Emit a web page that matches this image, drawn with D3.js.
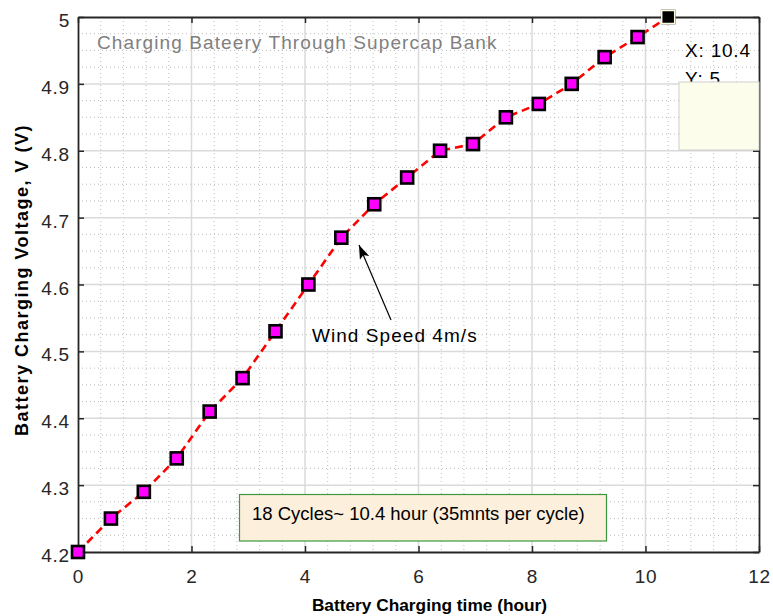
<!DOCTYPE html>
<html>
<head>
<meta charset="utf-8">
<script src="https://cdn.jsdelivr.net/npm/d3@7"></script>
<style>
  html, body { margin: 0; padding: 0; background: #ffffff; }
  svg { display: block; font-family: "Liberation Sans", Arial, Helvetica, sans-serif; }
</style>
</head>
<body>
<svg id="chart" width="773" height="616"></svg>
<script>
// Charging time (hours) for each 35-minute cycle, and measured battery voltage
const timeHours = [0, 0.58, 1.16, 1.74, 2.32, 2.9, 3.48, 4.06, 4.64, 5.22, 5.8, 6.38, 6.96, 7.54, 8.12, 8.7, 9.28, 9.86, 10.4];
const voltage   = [4.2, 4.25, 4.29, 4.34, 4.41, 4.46, 4.53, 4.60, 4.67, 4.72, 4.76, 4.80, 4.81, 4.85, 4.87, 4.90, 4.94, 4.97, 5.0];

const xTickValues = [0, 2, 4, 6, 8, 10, 12];
const yTickValues = [4.2, 4.3, 4.4, 4.5, 4.6, 4.7, 4.8, 4.9, 5.0];
const xMinorStep = 0.4;
const yMinorStep = 0.025;

const plotTitle = "Charging Bateery Through Supercap Bank";
const xLabel = "Battery Charging time (hour)";
const yLabel = "Battery Charging Voltage, V (V)";
const noteText = "18 Cycles~ 10.4 hour (35mnts per cycle)";
const arrowText = "Wind Speed 4m/s";

const svg = d3.select("#chart");
const L = 78, R = 759, T = 17, B = 552;

const x = d3.scaleLinear().domain([0, 12]).range([L, R]);
const y = d3.scaleLinear().domain([4.2, 5.0]).range([B, T]);

const axisColor = "#262626";

// white plot background
svg.append("rect").attr("x", L).attr("y", T).attr("width", R - L).attr("height", B - T).attr("fill", "#ffffff");

// minor grid (dotted)
const gMinor = svg.append("g").attr("stroke", "#bdbdbd").attr("stroke-width", 1).attr("stroke-dasharray", "1,3");
const xMinor = d3.range(0, 12 + 1e-9, xMinorStep).filter(v => Math.abs(v / 2 - Math.round(v / 2)) > 1e-6);
const yMinor = d3.range(4.2, 5.0 + 1e-9, yMinorStep).filter(v => Math.abs(v / 0.1 - Math.round(v / 0.1)) > 1e-6);
gMinor.selectAll("line.xm").data(xMinor).join("line")
  .attr("x1", d => x(d)).attr("x2", d => x(d)).attr("y1", T).attr("y2", B);
gMinor.selectAll("line.ym").data(yMinor).join("line")
  .attr("x1", L).attr("x2", R).attr("y1", d => y(d)).attr("y2", d => y(d));

// major grid (solid light gray)
const gMajor = svg.append("g").attr("stroke", "#dadada").attr("stroke-width", 1.5);
gMajor.selectAll("line.xg").data(xTickValues.slice(1, -1)).join("line")
  .attr("x1", d => x(d)).attr("x2", d => x(d)).attr("y1", T).attr("y2", B);
gMajor.selectAll("line.yg").data(yTickValues.slice(1, -1)).join("line")
  .attr("x1", L).attr("x2", R).attr("y1", d => y(d)).attr("y2", d => y(d));

// axes with inward ticks on all four sides
const tickLen = 6;
const fmtY = d => d3.format(".1f")(d).replace(/\.0$/, "");
const bottomAxis = d3.axisBottom(x).tickValues(xTickValues).tickSizeInner(-tickLen).tickSizeOuter(0).tickPadding(17.5);
const leftAxis = d3.axisLeft(y).tickValues(yTickValues).tickFormat(fmtY).tickSizeInner(-tickLen).tickSizeOuter(0).tickPadding(8);
const topAxis = d3.axisTop(x).tickValues(xTickValues).tickSizeInner(-tickLen).tickSizeOuter(0).tickFormat("");
const rightAxis = d3.axisRight(y).tickValues(yTickValues).tickSizeInner(-tickLen).tickSizeOuter(0).tickFormat("");

function styleAxis(g) {
  g.select(".domain").attr("stroke", axisColor).attr("stroke-width", 1.8);
  g.selectAll(".tick line").attr("stroke", axisColor).attr("stroke-width", 1.5);
  g.selectAll(".tick text").attr("fill", axisColor).attr("font-size", 19).attr("letter-spacing", 0.8)
    .attr("font-family", "'Liberation Sans', Arial, sans-serif");
}
svg.append("g").attr("transform", `translate(0,${B})`).call(bottomAxis).call(styleAxis);
const gLeft = svg.append("g").attr("transform", `translate(${L},0)`).call(leftAxis).call(styleAxis);
gLeft.selectAll(".tick text").attr("dy", "0.5em");
svg.append("g").attr("transform", `translate(0,${T})`).call(topAxis).call(styleAxis);
svg.append("g").attr("transform", `translate(${R},0)`).call(rightAxis).call(styleAxis);

// in-plot title
svg.append("text").attr("x", 97).attr("y", 49).attr("fill", "#808080").attr("font-size", 19)
  .attr("letter-spacing", 1.1).text(plotTitle);

// dashed red curve
const pts = timeHours.map((t, i) => [t, voltage[i]]);
svg.append("path").datum(pts)
  .attr("fill", "none").attr("stroke", "#ff0000").attr("stroke-width", 2.6)
  .attr("stroke-dasharray", "8,5")
  .attr("d", d3.line().x(d => x(d[0])).y(d => y(d[1])));

// square markers
const ms = 12;
svg.append("g").selectAll("rect").data(pts).join("rect")
  .attr("x", d => x(d[0]) - ms / 2).attr("y", d => y(d[1]) - ms / 2)
  .attr("width", ms).attr("height", ms)
  .attr("fill", "#ff00ff").attr("stroke", "#000000").attr("stroke-width", 2.6);

// data tip on the final point
const last = pts[pts.length - 1];
svg.append("rect")
  .attr("x", x(last[0]) - 6.5).attr("y", y(last[1]) - 6.5).attr("width", 13).attr("height", 13)
  .attr("fill", "#000000").attr("stroke", "#ffffe0").attr("stroke-width", 1.5);
svg.append("text").attr("x", 685).attr("y", 57).attr("font-size", 19).attr("letter-spacing", 0.8)
  .attr("fill", "#000").text("X: " + last[0]);
svg.append("text").attr("x", 685).attr("y", 85).attr("font-size", 19).attr("letter-spacing", 0.8)
  .attr("fill", "#000").text("Y: " + last[1]);
svg.append("rect").attr("x", 679).attr("y", 82).attr("width", 80).attr("height", 68)
  .attr("fill", "#fdfdec").attr("stroke", "#cfcfcf").attr("stroke-width", 1);

// arrow annotation
const defs = svg.append("defs");
defs.append("marker").attr("id", "ah").attr("viewBox", "0 0 14 10").attr("refX", 14).attr("refY", 5)
  .attr("markerWidth", 14).attr("markerHeight", 10).attr("markerUnits", "userSpaceOnUse").attr("orient", "auto")
  .append("path").attr("d", "M0,0 L14,5 L0,10 L3,5 Z").attr("fill", "#000");
svg.append("line").attr("x1", 391).attr("y1", 320).attr("x2", 359).attr("y2", 245)
  .attr("stroke", "#000").attr("stroke-width", 1.2).attr("marker-end", "url(#ah)");
svg.append("text").attr("x", 312).attr("y", 342).attr("font-size", 19).attr("letter-spacing", 1.05)
  .attr("fill", "#000").text(arrowText);

// note box
svg.append("rect").attr("x", 239.5).attr("y", 494.5).attr("width", 367).attr("height", 46.5)
  .attr("fill", "#fcefdc").attr("stroke", "#3c9a3c").attr("stroke-width", 1.2);
svg.append("text").attr("x", 252).attr("y", 520).attr("font-size", 18.5).attr("fill", "#000").text(noteText);

// axis labels
svg.append("text").attr("x", 429.5).attr("y", 611).attr("text-anchor", "middle")
  .attr("font-size", 17.3).attr("font-weight", "bold").attr("fill", "#000").text(xLabel);
svg.append("text").attr("transform", `translate(28,280) rotate(-90)`).attr("text-anchor", "middle")
  .attr("font-size", 18).attr("letter-spacing", 1.5).attr("font-weight", "bold").attr("fill", "#000").text(yLabel);
</script>
</body>
</html>
